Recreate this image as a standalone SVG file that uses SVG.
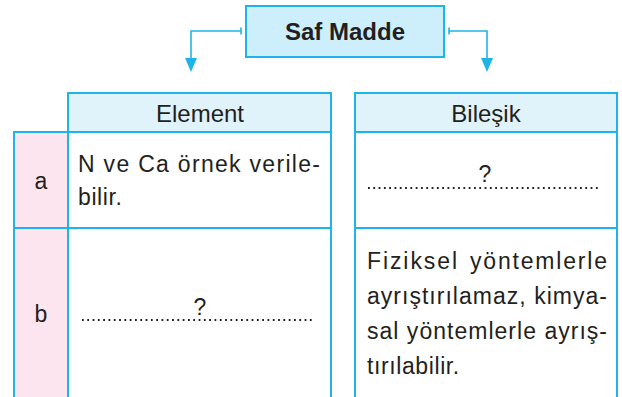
<svg xmlns="http://www.w3.org/2000/svg" width="622" height="397" viewBox="0 0 622 397">
  <style>
    .frame { stroke: #1fb4e8; stroke-width: 2; }
    .head { fill: #e0f3fb; }
    .tag { fill: #fce5ee; }
    .cell { fill: #ffffff; }
    .t { font-family: "Liberation Sans", Arial, sans-serif; fill: #231f20; }
    .body { font-size: 23px; }
    .link { fill: none; stroke: #1fb4e8; stroke-width: 1.6; }
    .tip { fill: #1fb4e8; }
    .dots { stroke: #231f20; stroke-width: 1.8; stroke-dasharray: 1.8 3.5; fill: none; }
  </style>

  <rect width="622" height="397" fill="#ffffff"/>

  <!-- root concept -->
  <g id="saf-madde">
    <rect x="246" y="6" width="198" height="51" fill="#cdeefb" class="frame"/>
    <text x="345" y="39.5" text-anchor="middle" class="t" font-size="24" font-weight="bold">Saf Madde</text>
  </g>

  <!-- branches to the two columns -->
  <g id="connectors">
    <path class="link" d="M241 31 H191 V58"/>
    <path class="tip" d="M185 58 L197 58 L191 72 Z"/>
    <line class="link" x1="241" y1="27.5" x2="241" y2="34.5"/>
    <path class="link" d="M449 31 H487 V58"/>
    <path class="tip" d="M481 58 L493 58 L487 72 Z"/>
    <line class="link" x1="449" y1="27.5" x2="449" y2="34.5"/>
  </g>

  <!-- row labels -->
  <g id="row-labels">
    <rect x="14" y="132" width="54" height="275" class="tag frame"/>
    <line x1="14" y1="228" x2="68" y2="228" class="frame"/>
    <text x="41" y="189" text-anchor="middle" class="t" font-size="23">a</text>
    <text x="41" y="322" text-anchor="middle" class="t" font-size="23">b</text>
  </g>

  <!-- Element column -->
  <g id="element">
    <rect x="68" y="93" width="263" height="39" class="head frame"/>
    <text x="200" y="122" text-anchor="middle" class="t" font-size="24">Element</text>
    <rect x="68" y="132" width="263" height="96" class="cell frame"/>
    <text x="78" y="172" class="t body" textLength="242" lengthAdjust="spacing">N ve Ca örnek verile-</text>
    <text x="78" y="205" class="t body" letter-spacing="0.6">bilir.</text>
    <rect x="68" y="228" width="263" height="179" class="cell frame"/>
    <text x="200" y="315" text-anchor="middle" class="t" font-size="23">?</text>
    <line x1="82" y1="320" x2="313" y2="320" class="dots"/>
  </g>

  <!-- Bileşik column -->
  <g id="bilesik">
    <rect x="355" y="93" width="262" height="39" class="head frame"/>
    <text x="486" y="122" text-anchor="middle" class="t" font-size="24">Bileşik</text>
    <rect x="355" y="132" width="262" height="96" class="cell frame"/>
    <text x="485" y="182" text-anchor="middle" class="t" font-size="23">?</text>
    <line x1="368" y1="188" x2="599" y2="188" class="dots"/>
    <rect x="355" y="228" width="262" height="179" class="cell frame"/>
    <text x="367" y="269" class="t body" textLength="90" lengthAdjust="spacing">Fiziksel</text>
    <text x="607" y="269" text-anchor="end" class="t body" textLength="137" lengthAdjust="spacing">yöntemlerle</text>
    <text x="367" y="304" class="t body" textLength="240" lengthAdjust="spacing">ayrıştırılamaz, kimya-</text>
    <text x="367" y="339" class="t body" textLength="240" lengthAdjust="spacing">sal yöntemlerle ayrış-</text>
    <text x="367" y="374" class="t body" letter-spacing="0.6">tırılabilir.</text>
  </g>
</svg>
